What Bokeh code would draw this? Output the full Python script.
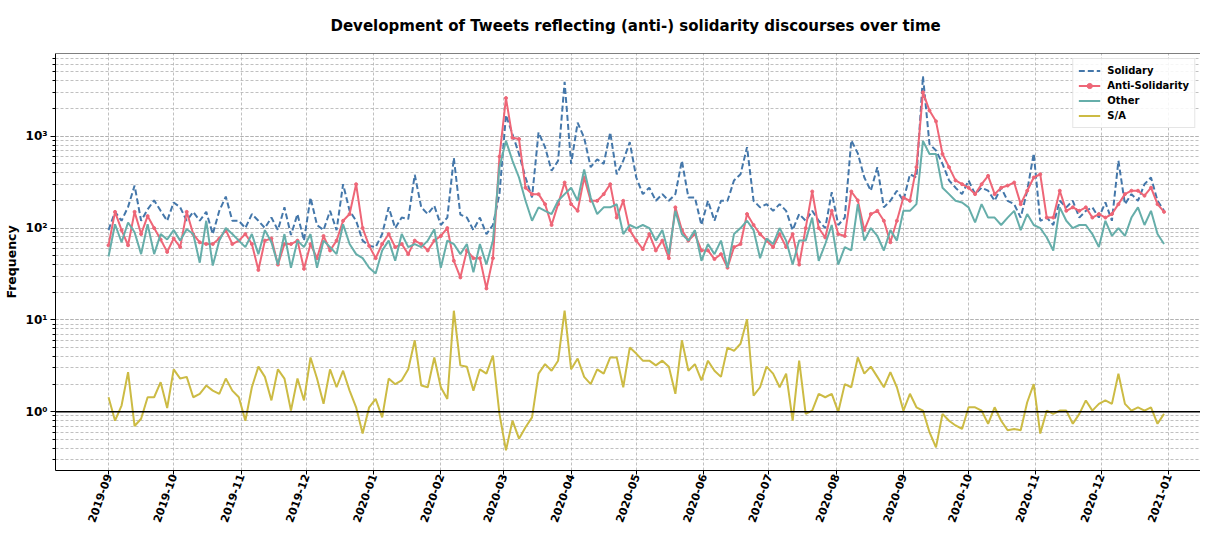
import math
from datetime import datetime
import pandas as pd
from bokeh.plotting import figure
from bokeh.models import (Range1d, MonthsTicker, DatetimeTickFormatter, Span,
                          Legend, LegendItem, CustomJSTickFormatter)
from bokeh.embed import file_html
from bokeh.resources import INLINE

# ---- data (every 3rd day from 2019-09-01) ----
start_date = "2019-09-01"
step = "3D"

solidary = [
    95, 150, 120, 170, 290, 120, 160, 200, 154, 120, 190, 168, 120, 150, 120, 150, 86, 154, 220, 120,
    120, 100, 142, 120, 100, 130, 95, 168,
    84, 142, 73, 215, 108, 95, 154, 95, 300, 154, 120, 73, 64, 62, 86, 168, 100, 130, 125, 380,
    168, 142, 175, 108, 130, 580, 140,
    130, 95, 130, 86, 108, 234, 1700, 1050, 640, 355, 215, 1100, 760, 420, 540, 3900, 500, 1400,
    960, 460, 560, 500, 1100, 385, 540, 860, 355, 234,
    275, 198, 234, 198, 234, 540, 215, 215, 108, 198, 120, 198, 198, 330, 385, 760, 198, 168,
    182, 154, 182, 154, 95, 142, 120, 154, 120,
    100, 245, 108, 130, 900, 650, 355, 255, 460, 168, 198, 255, 198, 385, 355, 4500, 820, 700,
    500, 330, 275, 234, 330, 234, 275, 255, 198, 275,
    198, 182, 130, 255, 650, 120, 130, 108, 198, 168, 198, 130, 154, 168, 130, 190, 120, 540,
    182, 234, 198, 300, 355, 198, 154,
]

anti_solidarity = [
    65, 150, 95, 65, 150, 86, 135, 100, 75, 55, 77, 62, 150, 86, 70, 67, 67, 77, 95, 67,
    73, 86, 67, 35, 73, 77, 40, 67,
    67, 73, 36, 67, 47, 82, 57, 73, 120, 142, 300, 100, 64, 47, 67, 86, 62, 67, 52, 73,
    67, 57, 73, 82, 100, 44, 29,
    57, 47, 47, 22, 47, 600, 2600, 960, 930, 275, 234, 234, 182, 108, 182, 313, 182, 154,
    355, 198, 198, 234, 300, 130, 198, 95, 73, 59,
    86, 57, 73, 47, 168, 95, 73, 86, 57, 57, 46, 52, 37, 62, 67, 142, 108, 86,
    73, 62, 86, 62, 86, 40, 100, 250, 100,
    79, 154, 86, 82, 250, 200, 95, 142, 154, 120, 70, 120, 215, 198, 460, 3000, 1900, 1450,
    640, 460, 330, 300, 275, 234, 300, 370, 234, 275,
    290, 313, 182, 255, 355, 385, 130, 130, 255, 154, 168, 154, 168, 130, 142, 130, 142, 182,
    234, 255, 255, 225, 275, 182, 150,
]

other = [
    49, 110, 70, 115, 90, 52, 110, 52, 86, 75, 95, 73, 97, 86, 42, 120, 39, 73, 100, 86,
    73, 62, 86, 52, 95, 70, 40, 86,
    37, 73, 62, 86, 37, 73, 62, 52, 110, 67, 52, 47, 37, 32, 57, 73, 44, 86, 62, 67,
    62, 73, 97, 37, 73, 67, 52,
    67, 33, 67, 40, 73, 460, 890, 540, 355, 198, 120, 168, 154, 142, 198, 234, 275, 198,
    435, 215, 142, 168, 168, 182, 86, 108, 100, 108,
    100, 73, 95, 52, 154, 86, 73, 95, 44, 67, 52, 73, 37, 86, 100, 120, 95, 47,
    77, 67, 100, 73, 40, 73, 73, 130, 44,
    67, 108, 40, 62, 57, 182, 73, 100, 82, 57, 95, 73, 154, 154, 182, 890, 640, 640,
    275, 234, 198, 190, 168, 115, 182, 130, 130, 108,
    130, 154, 95, 142, 108, 100, 79, 57, 168, 120, 100, 108, 108, 86, 62, 120, 82, 100,
    82, 130, 168, 108, 154, 86, 67,
]

s_over_a = [
    1.44, 0.8, 1.17, 2.7, 0.7, 0.84, 1.44, 1.44, 2.1, 1.1, 2.9, 2.3, 2.4, 1.44, 1.57, 1.93, 1.7, 1.57, 2.3, 1.7,
    1.44, 0.8, 1.85, 3.1, 2.4, 1.33, 2.9, 2.3,
    1.03, 2.3, 1.33, 3.9, 2.3, 1.22, 2.9, 1.85, 2.8, 1.7, 1.12, 0.58, 1.12, 1.38, 0.87, 2.3, 2.0, 2.2, 2.9, 6.0,
    1.93, 1.85, 3.9, 1.85, 1.38, 12.6, 3.2,
    3.1, 1.7, 2.9, 2.6, 4.1, 0.95, 0.38, 0.8, 0.51, 0.68, 0.87, 2.6, 3.3, 2.8, 3.6, 12.6, 2.9, 3.8,
    2.4, 2.0, 2.9, 2.6, 3.9, 3.9, 1.85, 5.0, 4.3, 3.6,
    3.6, 3.2, 3.6, 3.1, 1.57, 6.0, 2.8, 3.3, 2.2, 3.6, 2.8, 2.4, 5.0, 4.6, 5.5, 10.2, 1.5, 1.85,
    3.1, 2.6, 1.85, 2.6, 0.8, 3.6, 0.95, 1.03, 1.57,
    1.44, 1.57, 1.0, 2.0, 1.85, 3.9, 2.6, 3.1, 2.4, 1.85, 2.7, 1.85, 1.03, 1.57, 1.12, 1.03, 0.6, 0.41,
    0.95, 0.8, 0.71, 0.65, 1.12, 1.12, 1.03, 0.74, 1.12, 0.8,
    0.63, 0.65, 0.63, 1.27, 2.0, 0.58, 1.03, 0.95, 1.03, 1.03, 0.74, 0.95, 1.33, 1.03, 1.22, 1.33, 1.22, 2.6,
    1.22, 1.03, 1.12, 1.03, 1.12, 0.74, 0.95,
]

dates = pd.date_range(start_date, periods=len(solidary), freq=step)

title_text = "Development of Tweets reflecting (anti-) solidarity discourses over time"
labels = ["Solidary", "Anti-Solidarity", "Other", "S/A"]
colors = ["#4477AA", "#EE6677", "#66AEAA", "#CCBB44"]

FONT = "DejaVu Sans"
Y_TOP = 7943

p = figure(width=1200, height=527, x_axis_type="datetime", y_axis_type="log",
           x_range=Range1d(datetime(2019, 8, 7, 14), datetime(2021, 1, 15, 19)),
           y_range=Range1d(0.2296, Y_TOP),
           output_backend="svg", toolbar_location=None,
           min_border_left=47, min_border_right=0, min_border_top=53, min_border_bottom=0)

p.title.text = title_text
p.title.align = "left"
p.title.offset = 275
p.title.vertical_align = "top"
p.title.standoff = 33
p.title.text_font = FONT
p.title.text_font_size = "15px"
p.title.text_font_style = "bold"
p.title.text_color = "black"

p.outline_line_color = None
p.background_fill_color = "white"
p.border_fill_color = "white"
# top spine (the right spine lies outside the reference picture)
p.add_layout(Span(location=Y_TOP, dimension="width", line_color="black", line_width=1))

# x axis: one tick per month
mt = MonthsTicker(months=list(range(12)))
p.xaxis.ticker = mt
p.xgrid.ticker = mt
p.xaxis.formatter = DatetimeTickFormatter(months="%Y-%m", days="%Y-%m", years="%Y-%m")
p.xaxis.major_label_orientation = math.radians(70)
p.xaxis.major_label_text_font = FONT
p.xaxis.major_label_text_font_size = "11px"
p.xaxis.major_label_text_font_style = "bold"
p.xaxis.major_label_text_color = "black"
p.xaxis.major_label_standoff = 0
p.xaxis.major_tick_out = 4
p.xaxis.major_tick_in = 0
p.xaxis.minor_tick_line_color = None
p.xaxis.axis_line_color = "black"
p.xaxis.major_tick_line_color = "black"

# y axis: log with 2..9 minors
p.yaxis.ticker.num_minor_ticks = 10
p.yaxis.formatter = CustomJSTickFormatter(code="""
const sup = {'-':'\u207b','0':'\u2070','1':'\u00b9','2':'\u00b2','3':'\u00b3','4':'\u2074',
             '5':'\u2075','6':'\u2076','7':'\u2077','8':'\u2078','9':'\u2079'};
const e = Math.round(Math.log10(tick));
return '10' + String(e).split('').map(c => sup[c]).join('');
""")
p.yaxis.axis_label = "Frequency"
p.yaxis.axis_label_text_font = FONT
p.yaxis.axis_label_text_font_size = "12.5px"
p.yaxis.axis_label_text_font_style = "bold"
p.yaxis.axis_label_text_color = "black"
p.yaxis.axis_label_standoff = 4
p.yaxis.major_label_text_font = FONT
p.yaxis.major_label_text_font_size = "12px"
p.yaxis.major_label_text_font_style = "bold"
p.yaxis.major_label_text_color = "black"
p.yaxis.major_label_standoff = 3
p.yaxis.major_tick_out = 5
p.yaxis.major_tick_in = 0
p.yaxis.minor_tick_out = 3
p.yaxis.minor_tick_in = 0
p.yaxis.axis_line_color = "black"

# grids: dashed gray, major + minor
for g in (p.xgrid, p.ygrid):
    g.grid_line_color = "#b0b0b0"
    g.grid_line_dash = "3 2"
    g.grid_line_width = 0.8
p.ygrid.minor_grid_line_color = "#b0b0b0"
p.ygrid.minor_grid_line_dash = "3 2"
p.ygrid.minor_grid_line_width = 0.8

r_s = p.line(dates, solidary, line_color=colors[0], line_width=2, line_dash="6 3")
r_a = p.line(dates, anti_solidarity, line_color=colors[1], line_width=2)
r_am = p.scatter(dates, anti_solidarity, size=3, color=colors[1])
r_o = p.line(dates, other, line_color=colors[2], line_width=2)
r_r = p.line(dates, s_over_a, line_color=colors[3], line_width=2)

p.add_layout(Span(location=1, dimension="width", line_color="black", line_width=1.5))

legend = Legend(items=[
    LegendItem(label=labels[0], renderers=[r_s]),
    LegendItem(label=labels[1], renderers=[r_a, r_am]),
    LegendItem(label=labels[2], renderers=[r_o]),
    LegendItem(label=labels[3], renderers=[r_r]),
], location="top_right")
legend.label_text_font = FONT
legend.label_text_font_size = "10px"
legend.label_text_font_style = "bold"
legend.label_text_color = "black"
legend.glyph_width = 22
legend.glyph_height = 13
legend.label_height = 13
legend.spacing = 2
legend.padding = 5
legend.margin = 5
legend.label_standoff = 7
legend.border_line_color = "#cccccc"
legend.border_line_width = 1
legend.background_fill_alpha = 0.85
p.add_layout(legend)

open("out.html", "w").write(file_html(p, INLINE))
